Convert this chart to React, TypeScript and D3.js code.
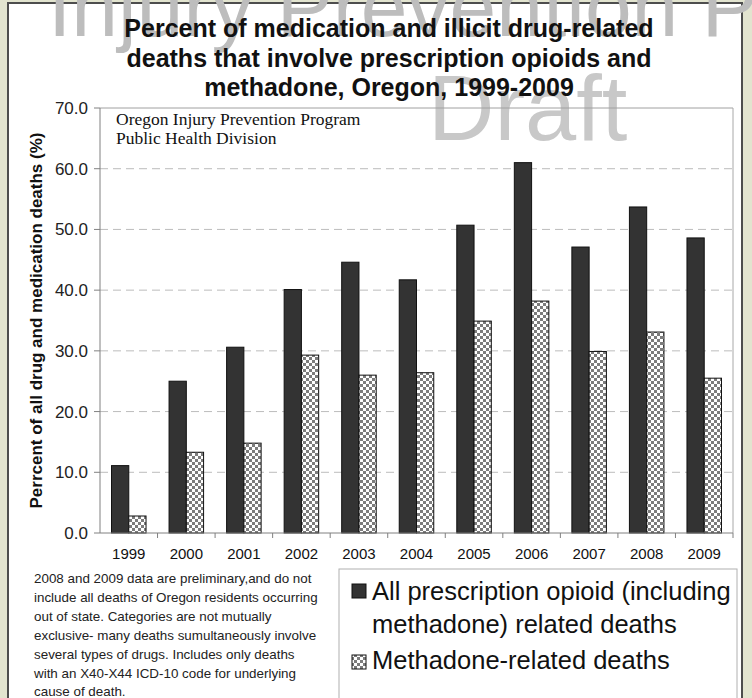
import React from 'react';
import * as d3 from 'd3';

// values
const years = ['1999', '2000', '2001', '2002', '2003', '2004', '2005', '2006', '2007', '2008', '2009'];
const opioidPct = [11.1, 25.0, 30.6, 40.1, 44.6, 41.7, 50.7, 61.0, 47.1, 53.7, 48.6];
const methadonePct = [2.8, 13.3, 14.8, 29.3, 26.0, 26.4, 34.9, 38.2, 29.9, 33.1, 25.5];
const yTicks = [0, 10, 20, 30, 40, 50, 60, 70];
const seriesKeys = ['opioid', 'methadone'];

const titleLines = [
  'Percent of medication and illicit drug-related',
  'deaths that involve prescription opioids and',
  'methadone, Oregon, 1999-2009',
];
const footnoteLines = [
  '2008 and 2009 data are preliminary,and do not',
  'include all deaths of Oregon residents occurring',
  'out of state. Categories are not mutually',
  'exclusive- many deaths sumultaneously involve',
  'several types of drugs. Includes only deaths',
  'with an X40-X44 ICD-10 code for underlying',
  'cause of death.',
];
const legendLabels = [
  ['All prescription opioid (including', 'methadone) related deaths'],
  ['Methadone-related deaths'],
];

const W = 752;
const H = 698;
const plot = { left: 100, right: 733, top: 108, bottom: 533 };
const sans = 'Arial, "Liberation Sans", sans-serif';
const serif = '"Times New Roman", "Liberation Serif", serif';

const App: React.FC = () => {
  const x = d3.scaleBand<string>().domain(years).range([plot.left, plot.right]);
  const xSub = d3
    .scaleBand<string>()
    .domain(seriesKeys)
    .range([0, x.bandwidth()])
    .paddingInner(0)
    .paddingOuter(0.667);
  const y = d3.scaleLinear().domain([0, 70]).range([plot.bottom, plot.top]);
  const fmt = d3.format('.1f');

  return (
    <svg
      width={W}
      height={H}
      style={{ position: 'absolute', left: 0, top: 0, display: 'block' }}
      fontFamily={sans}
    >
      <defs>
        <pattern id="checker" width={6} height={6} patternUnits="userSpaceOnUse">
          <rect width={6} height={6} fill="#ffffff" />
          <rect x={0} y={0} width={3} height={3} fill="#7c7c7c" />
          <rect x={3} y={3} width={3} height={3} fill="#7c7c7c" />
        </pattern>
      </defs>

      {/* frame */}
      <rect width={W} height={H} fill="#e2e4cf" />
      <rect x={8} y={3} width={734} height={H + 10} fill="#ffffff" stroke="#4d4d4d" strokeWidth={2} />

      {/* watermarks */}
      <text x={48} y={36} fontSize={84} fill="#bdbdbd">Injury Prevention P</text>
      <text x={428} y={140} fontSize={92} fill="#c8c8c8">Draft</text>

      {/* title */}
      {titleLines.map((t, i) => (
        <text key={t} x={389} y={37 + i * 29.5} textAnchor="middle" fontSize={25} fontWeight="bold" fill="#111">
          {t}
        </text>
      ))}

      {/* grid */}
      {yTicks.filter((t) => t > 0 && t < 70).map((t) => (
        <line
          key={t}
          x1={plot.left}
          x2={plot.right}
          y1={y(t)}
          y2={y(t)}
          stroke="#bcbcbc"
          strokeDasharray="8,5"
        />
      ))}
      <line x1={plot.left} x2={plot.right} y1={plot.top} y2={plot.top} stroke="#a0a0a0" />
      <line x1={plot.right} x2={plot.right} y1={plot.top} y2={plot.bottom} stroke="#a8a8a8" />

      <text x={116} y={125} fontFamily={serif} fontSize={17.5} fill="#111">Oregon Injury Prevention Program</text>
      <text x={116} y={144} fontFamily={serif} fontSize={17.5} fill="#111">Public Health Division</text>

      {/* bars */}
      {years.map((yr, i) => {
        const x0 = x(yr) as number;
        return (
          <g key={yr}>
            <rect
              x={x0 + (xSub('opioid') as number)}
              y={y(opioidPct[i])}
              width={xSub.bandwidth()}
              height={y(0) - y(opioidPct[i])}
              fill="#333333"
              stroke="#111"
              strokeWidth={1}
            />
            <rect
              x={x0 + (xSub('methadone') as number)}
              y={y(methadonePct[i])}
              width={xSub.bandwidth()}
              height={y(0) - y(methadonePct[i])}
              fill="url(#checker)"
              stroke="#111"
              strokeWidth={1}
            />
          </g>
        );
      })}

      {/* axes */}
      <line x1={plot.left} x2={plot.left} y1={plot.top} y2={plot.bottom} stroke="#808080" />
      <line x1={plot.left} x2={plot.right} y1={plot.bottom} y2={plot.bottom} stroke="#808080" />
      {yTicks.map((t) => (
        <g key={t}>
          <line x1={plot.left - 6} x2={plot.left} y1={y(t)} y2={y(t)} stroke="#808080" />
          <text x={88} y={y(t) + 6} textAnchor="end" fontSize={17} fill="#222">
            {fmt(t)}
          </text>
        </g>
      ))}
      {years.map((yr) => (
        <line
          key={yr}
          x1={(x(yr) as number) + x.bandwidth()}
          x2={(x(yr) as number) + x.bandwidth()}
          y1={plot.bottom}
          y2={plot.bottom + 5}
          stroke="#808080"
        />
      ))}
      {years.map((yr) => (
        <text
          key={yr}
          x={(x(yr) as number) + x.bandwidth() / 2}
          y={559}
          textAnchor="middle"
          fontSize={15}
          fill="#111"
        >
          {yr}
        </text>
      ))}
      <text
        transform={`translate(42, ${(plot.top + plot.bottom) / 2}) rotate(-90)`}
        textAnchor="middle"
        fontSize={17}
        fontWeight="bold"
        fill="#111"
      >
        Perrcent of all drug and medication deaths (%)
      </text>

      {/* footnote */}
      {footnoteLines.map((t, i) => (
        <text key={t} x={34} y={583 + i * 18.9} fontSize={13.4} fill="#222">
          {t}
        </text>
      ))}

      {/* legend */}
      <rect x={339} y={569} width={398} height={140} fill="#ffffff" stroke="#b0b0b0" />
      <rect x={352} y={584} width={14} height={14} fill="#333333" stroke="#111" />
      {legendLabels[0].map((t, i) => (
        <text key={t} x={372} y={600 + i * 33} fontSize={25.5} fill="#111">
          {t}
        </text>
      ))}
      <rect x={352} y={655} width={14} height={14} fill="url(#checker)" stroke="#111" />
      <text x={372} y={669} fontSize={25.5} fill="#111">
        {legendLabels[1][0]}
      </text>
    </svg>
  );
};

export default App;
